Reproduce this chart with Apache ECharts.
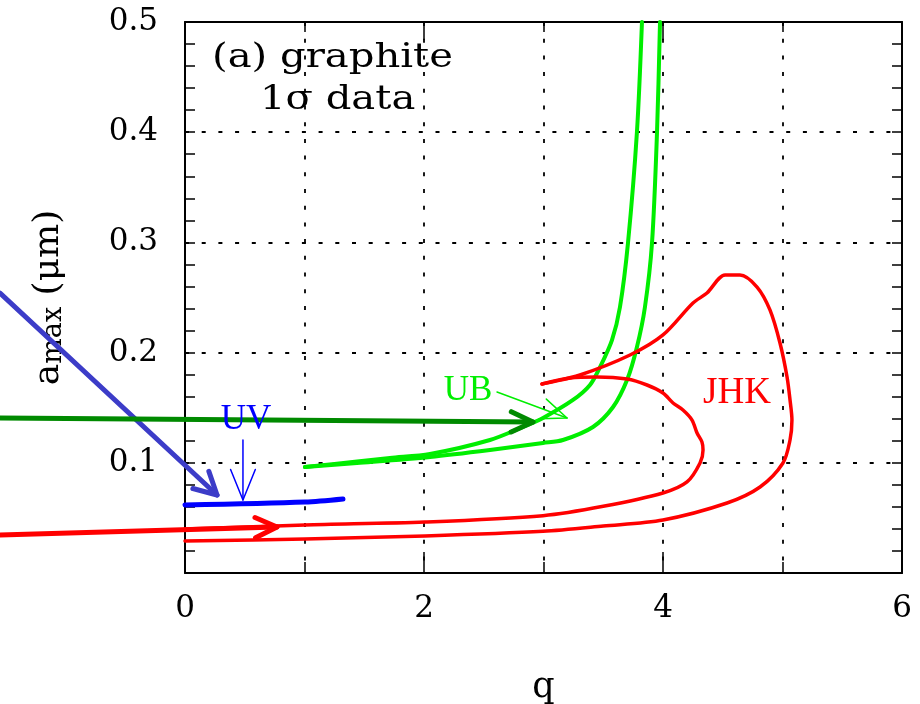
<!DOCTYPE html>
<html><head><meta charset="utf-8">
<script src="https://cdn.jsdelivr.net/npm/echarts@6/dist/echarts.min.js"></script>
<style>html,body{margin:0;padding:0;background:#fff}#c{width:920px;height:704px}</style>
</head><body><div id="c"></div>
<script>
// ---- data (q, a_max in micron) ----
const xTickLabels = ['0', '2', '4', '6'];
const yTickLabels = ['', '0.1', '0.2', '0.3', '0.4', '0.5'];

const ubBranchA = [[1.004,0.0962],[1.44,0.1012],[1.715,0.1044],[2.050,0.1080],[2.552,0.1207],[2.828,0.1325],[2.996,0.1407],[3.247,0.1570],[3.389,0.1706],[3.473,0.1869],[3.573,0.2114],[3.640,0.2414],[3.707,0.2995],[3.782,0.4002],[3.824,0.5000]];
const ubBranchB = [[1.004,0.0962],[1.439,0.0998],[2.050,0.1053],[2.552,0.1116],[2.996,0.1180],[3.163,0.1207],[3.414,0.1325],[3.582,0.1506],[3.699,0.1751],[3.782,0.2051],[3.849,0.2414],[3.908,0.2995],[3.950,0.4002],[3.975,0.5000]];

const jhkOuter = [[0,0.0290],[1.004,0.0309],[2.008,0.0336],[2.996,0.0378],[3.5,0.0426],[4.000,0.0481],[4.536,0.0635],[4.812,0.0780],[5.004,0.0998],[5.063,0.1207],[5.079,0.1388],[5.063,0.1570],[5.038,0.1779],[4.979,0.2087],[4.895,0.2387],[4.787,0.2595],[4.644,0.2704],[4.519,0.2704],[4.368,0.2541],[4.251,0.2450],[4.000,0.2160],[3.724,0.1978],[3.305,0.1797],[2.987,0.1715]];
const jhkInner = [[0,0.0399],[1.004,0.0436],[2.008,0.0463],[2.996,0.0520],[3.5,0.0605],[4.000,0.0726],[4.201,0.0826],[4.310,0.0998],[4.335,0.1116],[4.326,0.1189],[4.285,0.1270],[4.243,0.1388],[4.167,0.1479],[4.084,0.1543],[4.000,0.1633],[3.866,0.1706],[3.699,0.1760],[3.448,0.1779],[3.222,0.1770],[2.987,0.1715]];

const uvLine = [[0,0.0617],[1.004,0.0644],[1.322,0.0672]];

// annotation arrows: [tail, tip]
const arrowBlueBig = [[-1.548,0.2540],[0.268,0.0708]];
const arrowGreenBig = [[-1.548,0.1407],[2.912,0.1370]];
const arrowRedBig = [[-1.548,0.0345],[0.770,0.0417]];
const arrowUV = [[0.485,0.1207],[0.485,0.0662]];
const arrowUB = [[2.611,0.1642],[3.197,0.1407]];

// ---- chart ----
const FONT = 'DejaVu Serif';
const gridDash = { color: '#000', width: 1.8, type: [4, 12.7] };

function arrowSeries(name, seg, color, width, headLen, headDeg) {
  return {
    type: 'custom', name: name, coordinateSystem: 'cartesian2d', clip: false, silent: true, z: 4,
    encode: { x: [0, 2], y: [1, 3] },
    data: [[seg[0][0], seg[0][1], seg[1][0], seg[1][1]]],
    renderItem: function (params, api) {
      const p1 = api.coord([api.value(0), api.value(1)]);
      const p2 = api.coord([api.value(2), api.value(3)]);
      const th = Math.atan2(p1[1] - p2[1], p1[0] - p2[0]);
      const a = headDeg * Math.PI / 180;
      const h1 = [p2[0] + headLen * Math.cos(th + a), p2[1] + headLen * Math.sin(th + a)];
      const h2 = [p2[0] + headLen * Math.cos(th - a), p2[1] + headLen * Math.sin(th - a)];
      return {
        type: 'group', children: [
          { type: 'line', shape: { x1: p1[0], y1: p1[1], x2: p2[0], y2: p2[1] }, style: { stroke: color, lineWidth: width, lineCap: 'round' } },
          { type: 'polyline', shape: { points: [h1, p2, h2] }, style: { stroke: color, fill: null, lineWidth: width, lineCap: 'round', lineJoin: 'round' } }
        ]
      };
    }
  };
}

function curve(name, data, color, width) {
  return {
    type: 'line', name: name, data: data, showSymbol: false, symbol: 'none', smooth: 0.3,
    clip: true, z: 3, silent: true,
    lineStyle: { color: color, width: width, cap: 'round', join: 'round' }
  };
}

const axisCommon = {
  axisLine: { show: true, onZero: false, lineStyle: { color: '#000', width: 2 } },
  axisTick: { show: true, inside: true, lineStyle: { color: '#000', width: 1.5 } },
  minorTick: { show: true, lineStyle: { color: '#000', width: 1.5 } }
};

const chart = echarts.init(document.getElementById('c'), null, { renderer: 'canvas' });
chart.setOption({
  animation: false,
  backgroundColor: '#fff',
  grid: { left: 185, right: 18, top: 22, bottom: 131, outerBoundsMode: 'none', containLabel: false },
  xAxis: [
    Object.assign({}, axisCommon, {
      type: 'value', position: 'bottom', min: 0, max: 6, interval: 2,
      axisTick: { show: true, inside: true, length: 21, lineStyle: { color: '#000', width: 1.5 } },
      minorTick: { show: true, splitNumber: 2, length: 11, lineStyle: { color: '#000', width: 1.5 } },
      splitLine: { show: true, lineStyle: gridDash },
      minorSplitLine: { show: true, lineStyle: gridDash },
      axisLabel: { margin: 20, fontFamily: FONT, fontSize: 31, color: '#000',
        formatter: function (v) { return xTickLabels[Math.round(v / 2)]; } },
      name: 'q', nameLocation: 'middle', nameGap: 97,
      nameTextStyle: { fontFamily: FONT, fontSize: 35, color: '#000' }
    }),
    Object.assign({}, axisCommon, {
      type: 'value', position: 'top', min: 0, max: 6, interval: 2,
      axisTick: { show: true, inside: true, length: 18, lineStyle: { color: '#000', width: 1.5 } },
      minorTick: { show: true, splitNumber: 2, length: 10, lineStyle: { color: '#000', width: 1.5 } },
      splitLine: { show: false }, axisLabel: { show: false }
    })
  ],
  yAxis: [
    Object.assign({}, axisCommon, {
      type: 'value', position: 'left', min: 0, max: 0.5, interval: 0.1,
      axisTick: { show: true, inside: true, length: 10, lineStyle: { color: '#000', width: 1.5 } },
      minorTick: { show: true, splitNumber: 5, length: 10, lineStyle: { color: '#000', width: 1.5 } },
      splitLine: { show: true, lineStyle: gridDash },
      axisLabel: { margin: 27, fontFamily: FONT, fontSize: 31, color: '#000',
        formatter: function (v) { return yTickLabels[Math.round(v * 10)]; } },
      name: '{a|a}{s|max}{a| (μm)}', nameLocation: 'middle', nameGap: 118, nameRotate: 90,
      nameTextStyle: {
        color: '#000',
        rich: {
          a: { fontFamily: FONT, fontSize: 36, lineHeight: 36, verticalAlign: 'top', color: '#000' },
          s: { fontFamily: FONT, fontSize: 27, lineHeight: 27, verticalAlign: 'bottom', padding: [20, 0, 0, 0], color: '#000' }
        }
      }
    }),
    Object.assign({}, axisCommon, {
      type: 'value', position: 'right', min: 0, max: 0.5, interval: 0.1,
      axisTick: { show: true, inside: true, length: 10, lineStyle: { color: '#000', width: 1.5 } },
      minorTick: { show: true, splitNumber: 5, length: 10, lineStyle: { color: '#000', width: 1.5 } },
      splitLine: { show: false }, axisLabel: { show: false }
    })
  ],
  graphic: [
    { type: 'text', x: 212, y: 58, scaleX: 1.18, z: 10, style: { text: '(a) graphite', fontFamily: FONT, fontSize: 34, fill: '#000', align: 'left', verticalAlign: 'middle' } },
    { type: 'text', x: 260, y: 100, scaleX: 1.18, z: 10, style: { text: '1σ data', fontFamily: FONT, fontSize: 34, fill: '#000', align: 'left', verticalAlign: 'middle' } },
    { type: 'text', x: 246, y: 420, z: 10, style: { text: 'UV', fontFamily: 'Liberation Serif', fontSize: 35, fill: '#0000ff', align: 'center', verticalAlign: 'middle' } },
    { type: 'text', x: 468, y: 391, z: 10, style: { text: 'UB', fontFamily: 'Liberation Serif', fontSize: 35, fill: '#00ee00', align: 'center', verticalAlign: 'middle' } },
    { type: 'text', x: 737, y: 393, z: 10, style: { text: 'JHK', fontFamily: 'Liberation Serif', fontSize: 37, fill: '#ff0000', align: 'center', verticalAlign: 'middle' } }
  ],
  series: [
    curve('UB-a', ubBranchA, '#00ee00', 4),
    curve('UB-b', ubBranchB, '#00ee00', 4),
    curve('JHK-outer', jhkOuter, '#ff0000', 3.5),
    curve('JHK-inner', jhkInner, '#ff0000', 3.5),
    curve('UV', uvLine, '#0000ff', 5),
    arrowSeries('arrow-blue', arrowBlueBig, '#3c3cc8', 5, 25, 28),
    arrowSeries('arrow-green', arrowGreenBig, '#008a00', 5, 24, 25),
    arrowSeries('arrow-red', arrowRedBig, '#ff0000', 5, 24, 25),
    arrowSeries('arrow-uv', arrowUV, '#0000ff', 1.5, 33, 22),
    arrowSeries('arrow-ub', arrowUB, '#00ee00', 1.5, 28, 22)
  ]
});
</script></body></html>
